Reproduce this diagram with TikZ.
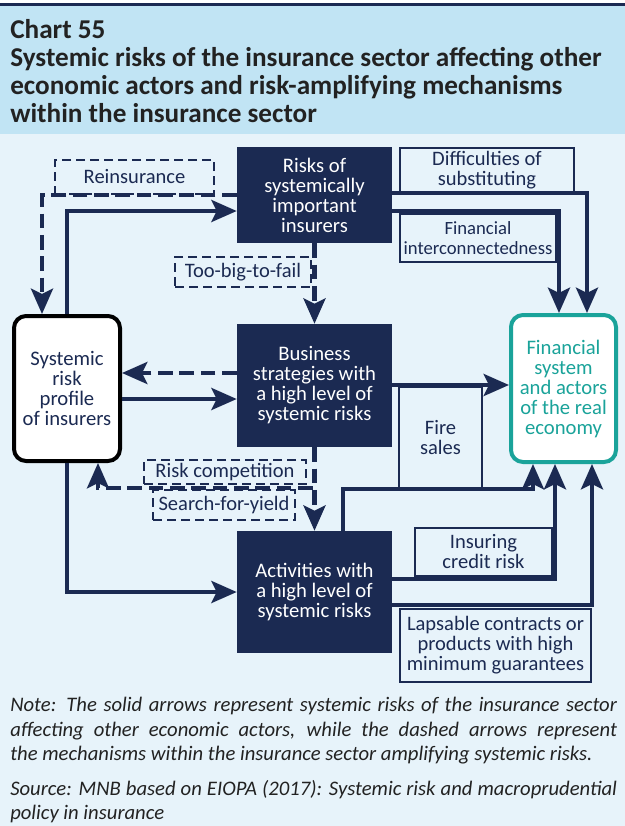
\documentclass[tikz,border=0pt]{standalone}
\usepackage{fontspec}
\setmainfont{Carlito}
\usetikzlibrary{arrows.meta}
\definecolor{navy}{HTML}{1B2A52}
\definecolor{teal2}{HTML}{1AA39A}
\definecolor{headbg}{HTML}{C1E4F4}
\definecolor{bodybg}{HTML}{E7F3FA}
\definecolor{ink}{HTML}{222222}
\begin{document}
\begin{tikzpicture}[x=0.75pt,y=-0.75pt,
  dark/.style={fill=navy,text=white,align=center,inner sep=0pt,
    font=\fontsize{15.5}{15}\selectfont},
  side/.style={line width=3pt,fill=white,rounded corners=9pt,align=center,
    inner sep=0pt,font=\fontsize{15.5}{15}\selectfont},
  tag/.style={draw=navy,line width=1.4pt,text=navy,align=center,inner sep=0pt,
    font=\fontsize{15.4}{15}\selectfont},
  dtag/.style={tag,dash pattern=on 7pt off 3.5pt},
  sz/.style 2 args={minimum width=#1*0.75pt,minimum height=#2*0.75pt},
  flow/.style={draw=navy,line width=3.2pt,-{Stealth[length=19pt,width=16.5pt,inset=4pt]}},
  amp/.style={flow,dash pattern=on 11pt off 5pt}]
  \useasboundingbox (0,0) rectangle (625,826);
  \fill[white] (0,0) rectangle (625,826);
  \fill[bodybg] (0,134) rectangle (625,826);
  \fill[headbg] (0,6) rectangle (625,134);
  \fill[navy] (0,3) rectangle (625,6);
  % heading
  \node[anchor=north west,inner sep=0pt,align=left,text=ink,
    font=\bfseries\fontsize{20.4}{21}\selectfont] (ttl) at (10,19)
    {Chart 55\\Systemic risks of the insurance sector affecting other\\
     economic actors and risk-amplifying mechanisms\\within the insurance sector};
  % main boxes
  \node[dark,sz={155}{96}] (rsi) at (314.5,195) {Risks of\\systemically\\important\\insurers};
  \node[dark,sz={155}{123}] (bs) at (314.5,385.5) {Business\\strategies with\\a high level of\\systemic risks};
  \node[dark,sz={155}{122}] (act) at (314.5,592) {Activities with\\a high level of\\systemic risks};
  \node[side,draw=black,text=navy,sz={106}{145}] (srp) at (67,388.5) {Systemic\\risk\\profile\\of insurers};
  \node[side,draw=teal2,text=teal2,sz={105}{147}] (fs) at (563.5,388.5) {Financial\\system\\and actors\\of the real\\economy};
  % channel labels
  \node[dtag,sz={159}{34}] (reins) at (134.5,177) {Reinsurance};
  \node[dtag,sz={136}{30}] (tbtf) at (243,272) {Too-big-to-fail};
  \node[tag,sz={174}{44}] (diff) at (487,170) {Difficulties of\\substituting};
  \node[tag,sz={156}{48},font=\fontsize{14}{15}\selectfont] (finint) at (478,238) {Financial\\interconnectedness};
  \node[dtag,sz={162}{24}] (riskc) at (225,472) {Risk competition};
  \node[dtag,sz={142}{30}] (sfy) at (224,505) {Search-for-yield};
  \node[tag,sz={83}{102}] (fire) at (440.5,438) {Fire\\sales};
  \node[tag,sz={137}{48}] (icr) at (483.5,552) {Insuring\\credit risk};
  \node[tag,sz={191}{73}] (lapse) at (495.5,645.5) {Lapsable contracts or\\products with high\\minimum guarantees};
  % connectors
  \draw[flow] (srp.north) |- (rsi.west |- 0,211);
  \draw[amp] (rsi.west |- 0,195) -| (42,0 |- srp.north);
  \draw[amp] (rsi.south) -- (bs.north);
  \draw[flow] (rsi.east |- 0,193) -| (587,0 |- fs.north);
  \draw[flow] (rsi.east |- 0,211) -| (559,0 |- fs.north);
  \draw[amp] (bs.west |- 0,373) -- (srp.east |- 0,373);
  \draw[flow] (srp.east |- 0,399) -- (bs.west |- 0,399);
  \draw[flow] (bs.east |- 0,385) -- (fs.west |- 0,385);
  \draw[flow] (act.north -| 343,0) |- (533,489) -- (533,0 |- fs.south);
  \draw[flow] (act.east |- 0,579) -| (555,0 |- fs.south);
  \draw[flow] (act.east |- 0,605) -| (592,0 |- fs.south);
  \draw[amp] (bs.south) -- (act.north);
  \draw[amp] (bs.south) |- (98,488) -- (98,0 |- srp.south);
  \draw[flow] (srp.south) |- (act.west);
  % notes
  \node[anchor=north west,inner sep=0pt,text width=455pt,align=justify,text=ink,
    font=\itshape\fontsize{15.5}{18.4}\selectfont] (note) at (10,697)
    {Note: The solid arrows represent systemic risks of the insurance sector\linebreak
     affecting other economic actors, while the dashed arrows represent\linebreak
     the mechanisms within the insurance sector amplifying systemic risks.};
  \node[anchor=north west,inner sep=0pt,text width=455pt,align=justify,text=ink,
    font=\itshape\fontsize{15.5}{18}\selectfont] (src) at (10,780)
    {Source: MNB based on EIOPA (2017): Systemic risk and macroprudential\linebreak
     policy in insurance};
\end{tikzpicture}
\end{document}
